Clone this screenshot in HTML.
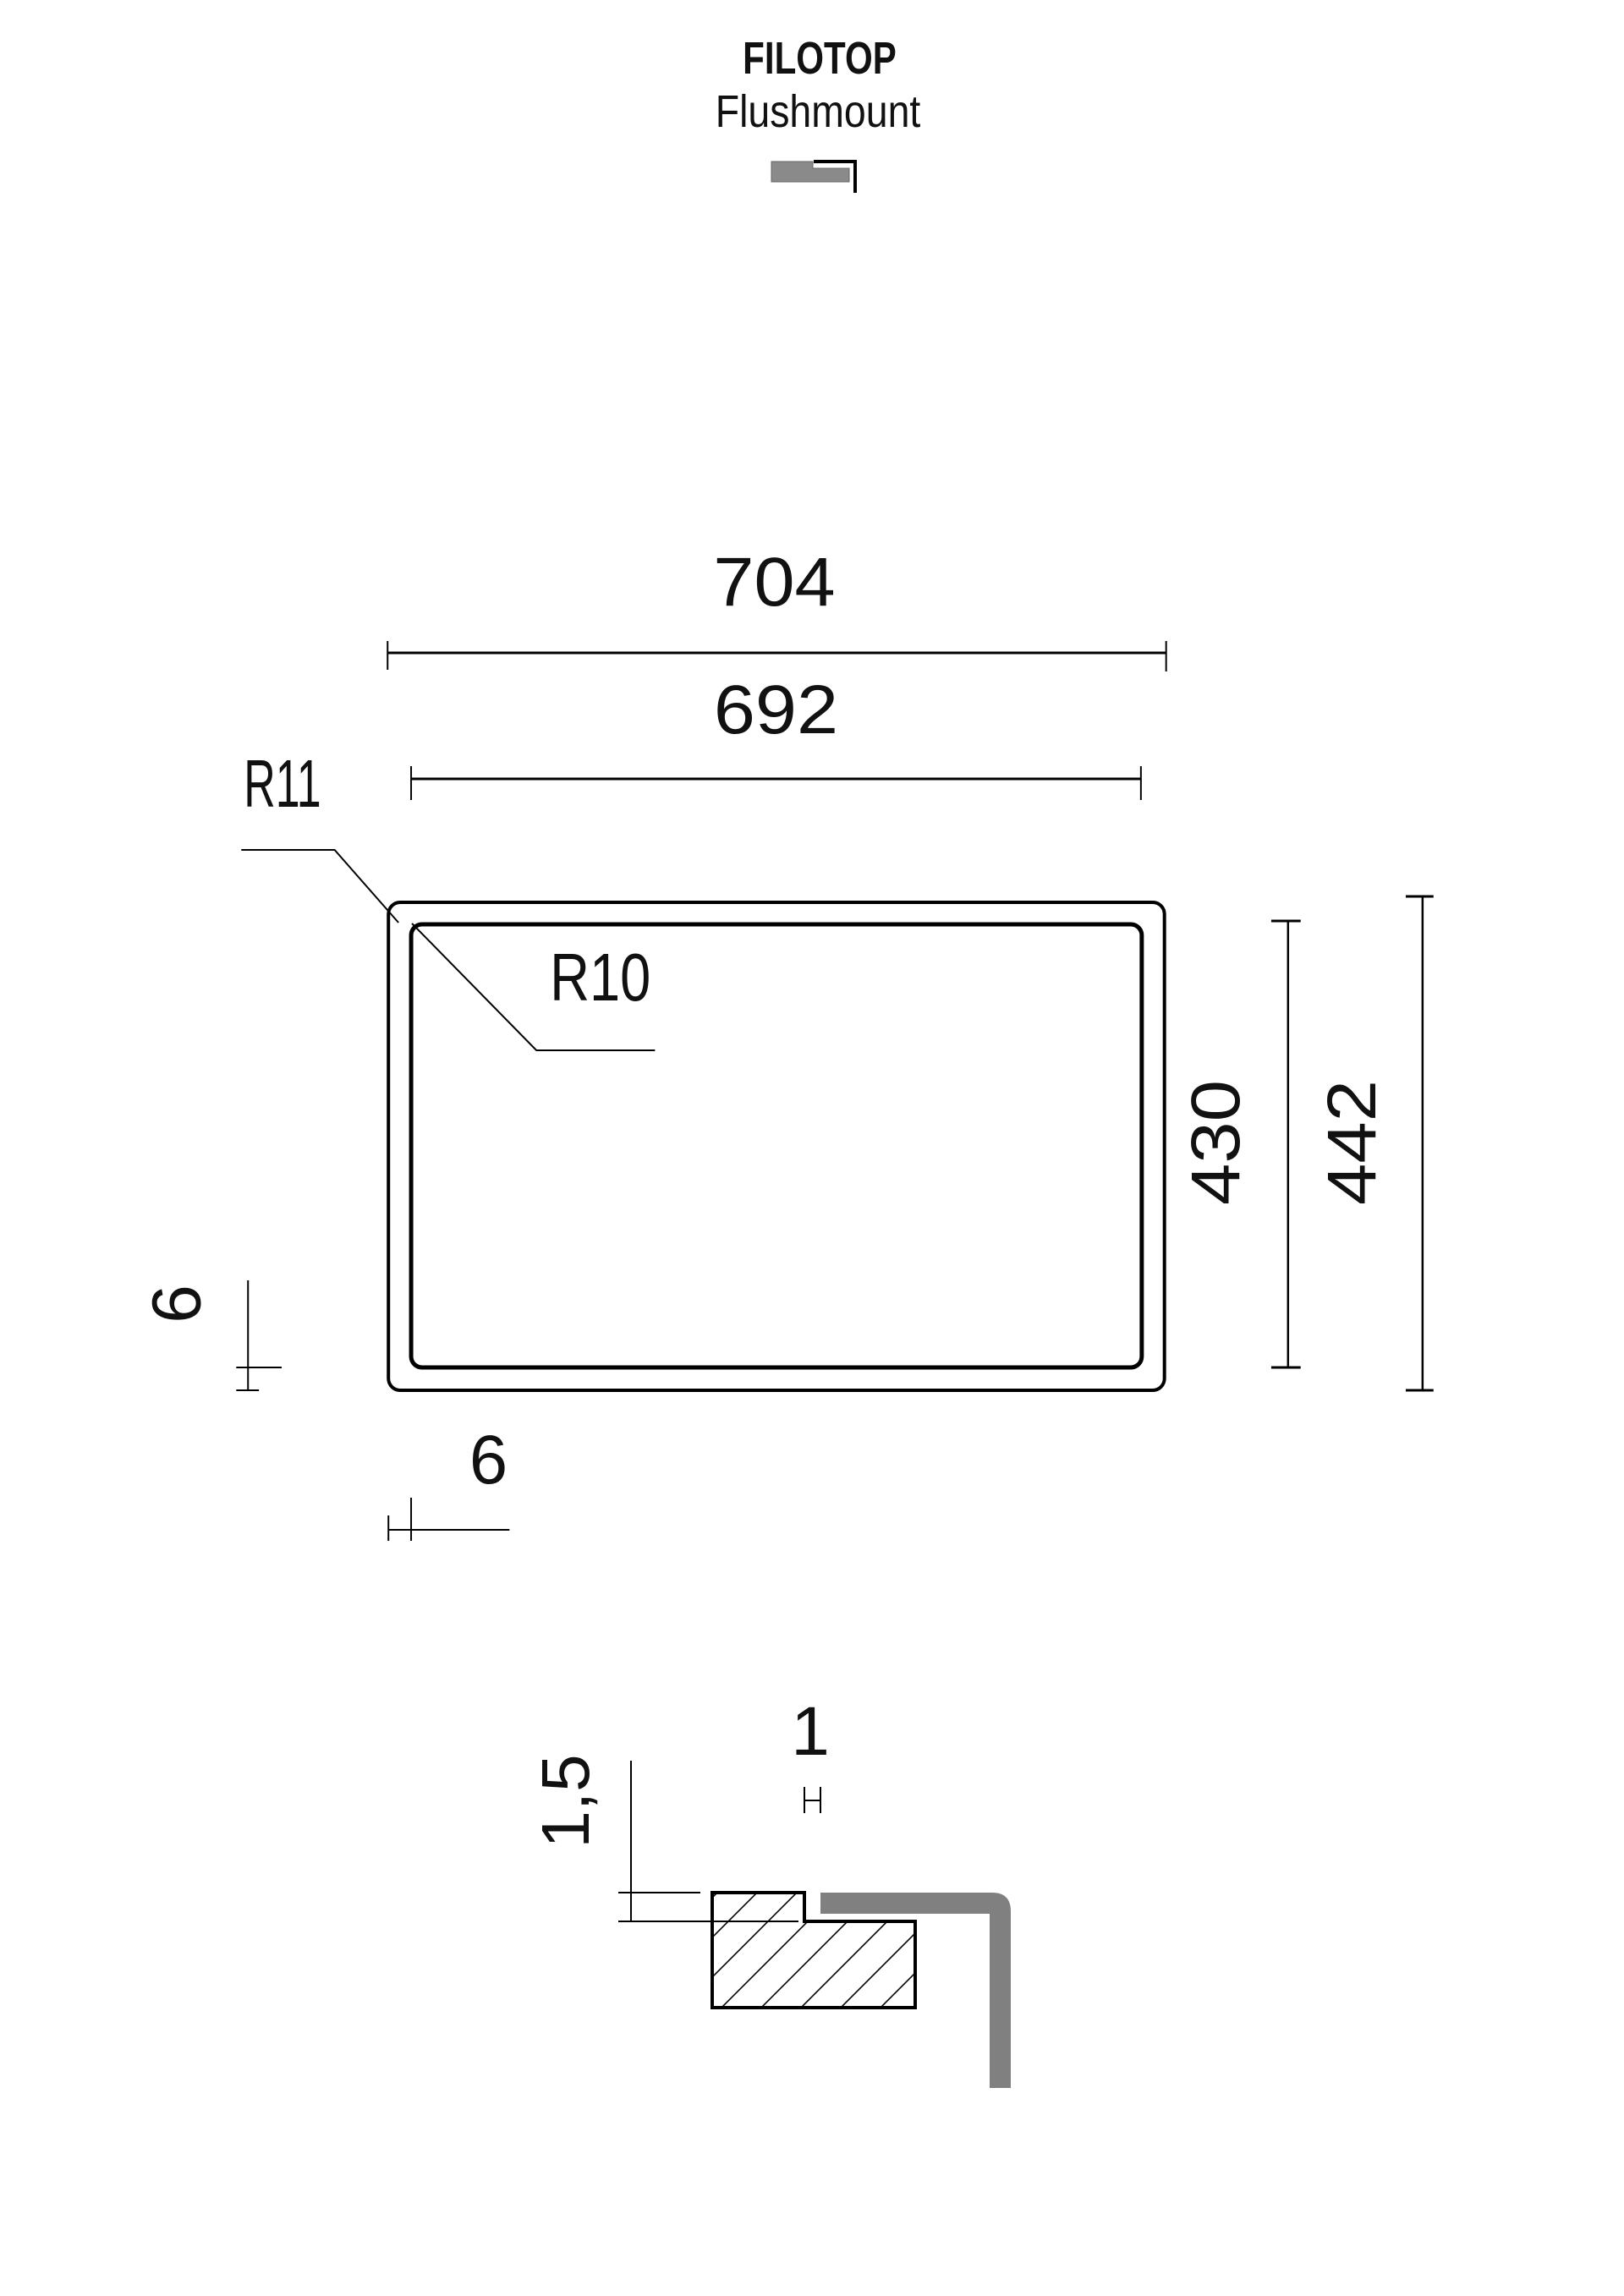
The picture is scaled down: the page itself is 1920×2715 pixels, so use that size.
<!DOCTYPE html>
<html><head><meta charset="utf-8"><style>
html,body{margin:0;padding:0;background:#fff;}
svg{display:block;}
text{font-family:"Liberation Sans",sans-serif;fill:#111;}
</style></head><body>
<svg width="1920" height="2715" viewBox="0 0 1920 2715" xmlns="http://www.w3.org/2000/svg">
<!-- header -->
<text x="0" y="87" font-size="54" font-weight="bold" text-anchor="middle" transform="translate(969,0) scale(0.78,1)">FILOTOP</text>
<text x="0" y="150" font-size="54" text-anchor="middle" transform="translate(967,0) scale(0.86,1)">Flushmount</text>
<path d="M912 191 H961 V199 H1004 V215 H912 Z" fill="#8a8a8a" stroke="#666" stroke-width="1"/>
<polyline points="962,191 1011,191 1011,228" fill="none" stroke="#000" stroke-width="4"/>

<g transform="translate(0,-8) scale(0.994,1)">
<g stroke="#000" fill="none">
<line x1="461" y1="780" x2="1387" y2="780" stroke-width="3"/>
<line x1="461" y1="766" x2="461" y2="800" stroke-width="2"/>
<line x1="1387" y1="766" x2="1387" y2="802" stroke-width="2"/>
<line x1="489" y1="929" x2="1357" y2="929" stroke-width="3"/>
<line x1="489" y1="914" x2="489" y2="954" stroke-width="2"/>
<line x1="1357" y1="914" x2="1357" y2="954" stroke-width="2"/>
<polyline points="287,1013 398,1013 474,1099" stroke-width="2"/>
<polyline points="490,1100 638,1250 779,1250" stroke-width="2"/>
<rect x="462" y="1075" width="923" height="577" rx="14" stroke-width="4"/>
<rect x="489" y="1101" width="869" height="524" rx="13" stroke-width="5"/>
<line x1="1532" y1="1097" x2="1532" y2="1625" stroke-width="2.5"/>
<line x1="1512" y1="1097" x2="1547" y2="1097" stroke-width="3"/>
<line x1="1512" y1="1625" x2="1547" y2="1625" stroke-width="3"/>
<line x1="1692" y1="1068" x2="1692" y2="1652" stroke-width="2.5"/>
<line x1="1672" y1="1068" x2="1705" y2="1068" stroke-width="3"/>
<line x1="1672" y1="1652" x2="1705" y2="1652" stroke-width="3"/>
<line x1="295" y1="1522" x2="295" y2="1652" stroke-width="2"/>
<line x1="281" y1="1625" x2="335" y2="1625" stroke-width="2"/>
<line x1="281" y1="1652" x2="308" y2="1652" stroke-width="2"/>
<line x1="462" y1="1800" x2="462" y2="1830" stroke-width="2"/>
<line x1="489" y1="1779" x2="489" y2="1830" stroke-width="2"/>
<line x1="462" y1="1817" x2="606" y2="1817" stroke-width="2"/>
</g>
<text x="921" y="724" font-size="82" text-anchor="middle" textLength="145" lengthAdjust="spacingAndGlyphs">704</text>
<text x="923" y="875" font-size="82" text-anchor="middle" textLength="148" lengthAdjust="spacingAndGlyphs">692</text>
<text x="290" y="962" font-size="80" textLength="92" lengthAdjust="spacingAndGlyphs">R11</text>
<text x="654" y="1191" font-size="80" textLength="120" lengthAdjust="spacingAndGlyphs">R10</text>
<text x="0" y="0" font-size="82" text-anchor="middle" textLength="148" lengthAdjust="spacingAndGlyphs" transform="translate(1474,1359) rotate(-90)">430</text>
<text x="0" y="0" font-size="82" text-anchor="middle" textLength="148" lengthAdjust="spacingAndGlyphs" transform="translate(1636,1359) rotate(-90)">442</text>
<text x="0" y="0" font-size="82" text-anchor="middle" transform="translate(238,1550) rotate(-90)">6</text>
<text x="581" y="1762" font-size="82" text-anchor="middle">6</text>
</g>

<g stroke="#000" fill="none">
<line x1="951" y1="2113" x2="951" y2="2144" stroke-width="2"/>
<line x1="970" y1="2113" x2="970" y2="2144" stroke-width="2"/>
<line x1="951" y1="2129" x2="970" y2="2129" stroke-width="2"/>
<line x1="746" y1="2082" x2="746" y2="2272" stroke-width="2"/>
<line x1="731" y1="2238" x2="828" y2="2238" stroke-width="2"/>
<line x1="731" y1="2272" x2="944" y2="2272" stroke-width="2"/>
</g>
<defs><clipPath id="cp"><path d="M842 2238 H951 V2272 H1082 V2374 H842 Z"/></clipPath></defs>
<g clip-path="url(#cp)" stroke="#000" stroke-width="1.6">
<line x1="666" y1="2420" x2="866" y2="2220"/>
<line x1="713" y1="2420" x2="913" y2="2220"/>
<line x1="760" y1="2420" x2="960" y2="2220"/>
<line x1="807" y1="2420" x2="1007" y2="2220"/>
<line x1="854" y1="2420" x2="1054" y2="2220"/>
<line x1="901" y1="2420" x2="1101" y2="2220"/>
<line x1="948" y1="2420" x2="1148" y2="2220"/>
<line x1="995" y1="2420" x2="1195" y2="2220"/>
<line x1="1042" y1="2420" x2="1242" y2="2220"/>
<line x1="1089" y1="2420" x2="1289" y2="2220"/>
</g>
<path d="M842 2238 H951 V2272 H1082 V2374 H842 Z" fill="none" stroke="#000" stroke-width="4"/>
<path d="M970 2238 H1173 Q1195 2238 1195 2260 V2469 H1170 V2263 H970 Z" fill="#808080"/>

<text x="958" y="2075" font-size="82" text-anchor="middle">1</text>
<text x="0" y="0" font-size="80" text-anchor="middle" transform="translate(696,2130) rotate(-90)">1,5</text>
</svg>
</body></html>
